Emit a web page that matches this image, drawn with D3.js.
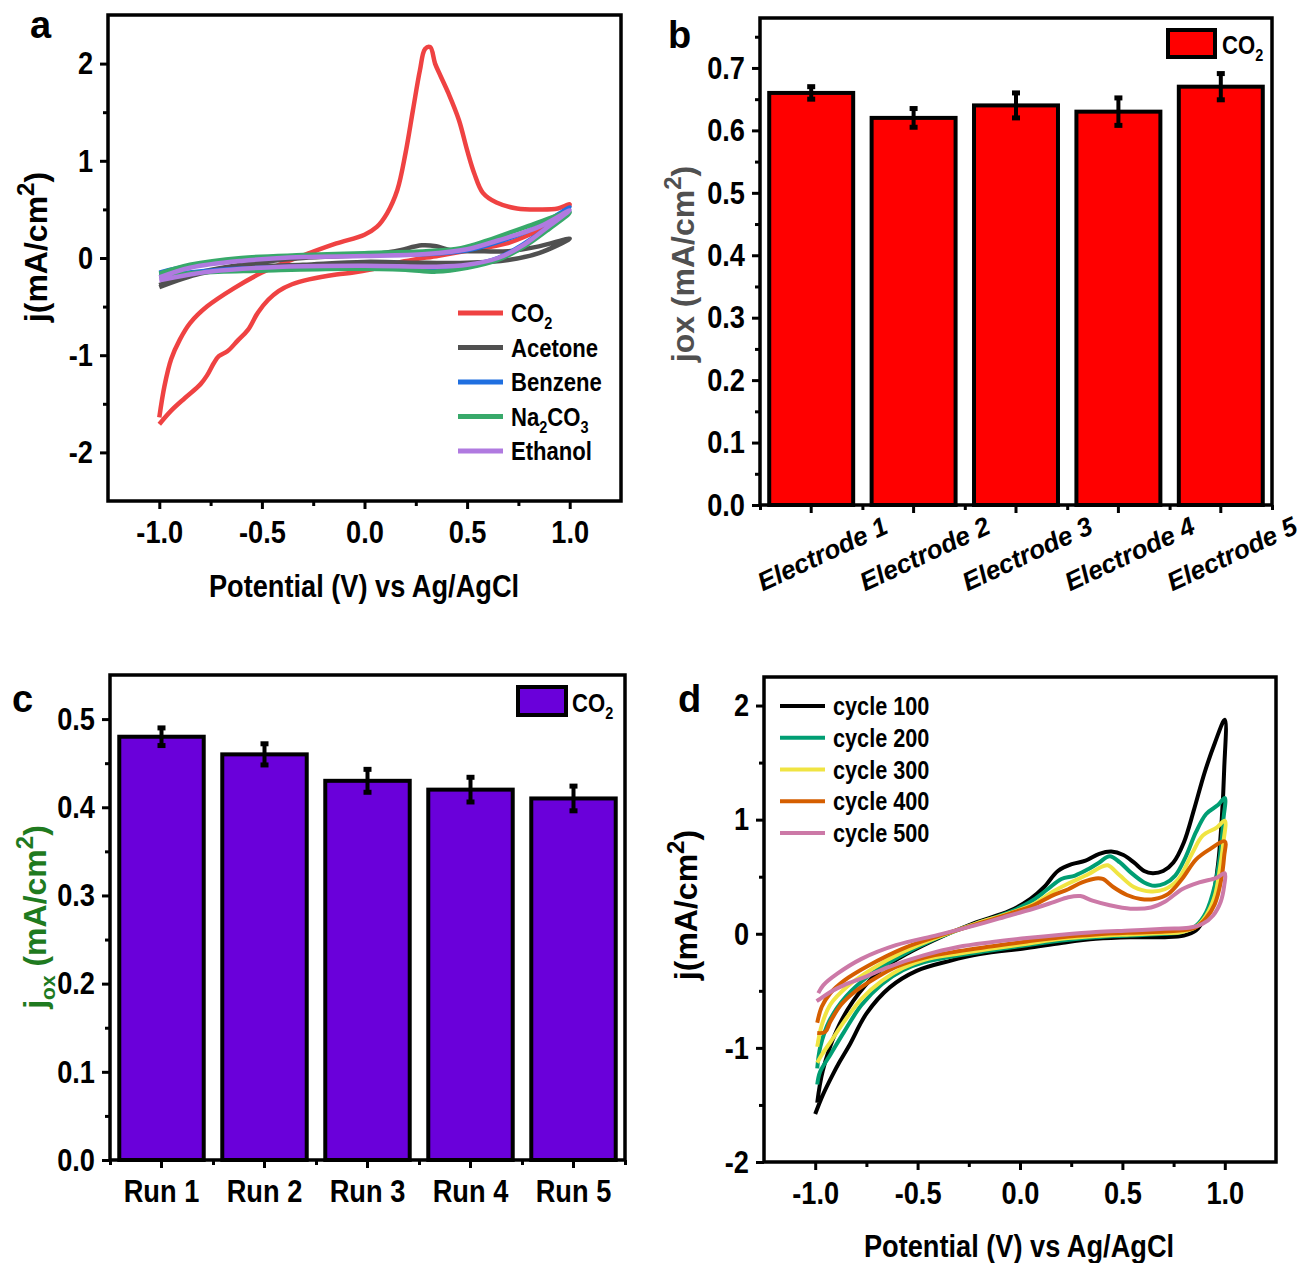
<!DOCTYPE html>
<html>
<head>
<meta charset="utf-8">
<script src="https://cdn.jsdelivr.net/npm/d3@7"></script>
<style>
body { margin: 0; background: #fff; }
svg text { font-family: "Liberation Sans", Arial, sans-serif; font-weight: bold; fill: #000; }
.tk path { display: none; }
.tk line { stroke: #000; stroke-width: 3; }
.tk text { font-size: 32px; font-family: "Liberation Sans", Arial, sans-serif; font-weight: bold; }
.tk text.elab { font-style: italic; font-size: 26px; }
</style>
</head>
<body>
<svg id="fig" width="1308" height="1263"></svg>
<script>
// ---------- panel a : CV in different media ----------
var cvNames = ["CO2", "Acetone", "Benzene", "Na2CO3", "Ethanol"]
var cvColors = ["#ef4242", "#505050", "#1f6fe0", "#38a96a", "#b07ae0"]

var co2Loop = [[-1.0,-1.64],[-0.975,-1.32],[-0.942,-1.04],[-0.90,-0.84],[-0.85,-0.67],[-0.768,-0.50],[-0.635,-0.31],[-0.50,-0.15],[-0.37,-0.03],[-0.27,0.05],[-0.137,0.15],[0.0,0.24],[0.06,0.32],[0.11,0.46],[0.16,0.70],[0.20,1.08],[0.236,1.52],[0.27,1.93],[0.295,2.15],[0.32,2.17],[0.344,2.0],[0.369,1.88],[0.41,1.69],[0.46,1.42],[0.50,1.11],[0.535,0.87],[0.577,0.67],[0.643,0.57],[0.743,0.51],[0.859,0.50],[0.942,0.51],[1.0,0.55],
  [0.925,0.36],[0.826,0.26],[0.693,0.15],[0.527,0.085],[0.361,0.024],[0.195,-0.034],[0.029,-0.12],[-0.054,-0.15],[-0.137,-0.17],[-0.27,-0.22],[-0.353,-0.27],[-0.419,-0.34],[-0.469,-0.43],[-0.519,-0.56],[-0.568,-0.74],[-0.618,-0.85],[-0.668,-0.96],[-0.71,-1.01],[-0.734,-1.08],[-0.768,-1.21],[-0.80,-1.30],[-0.875,-1.44],[-0.942,-1.57],[-1.0,-1.71]]
var acetoneLoop = [[-1.0,-0.28],[-0.85,-0.17],[-0.6,-0.07],[-0.3,0.0],[0.0,0.03],[0.15,0.07],[0.28,0.13],[0.35,0.12],[0.42,0.08],[0.55,0.07],[0.7,0.07],[0.85,0.12],[1.0,0.2],
  [0.85,0.05],[0.7,-0.02],[0.5,-0.05],[0.3,-0.05],[0.0,-0.04],[-0.3,-0.07],[-0.6,-0.1],[-0.8,-0.16],[-1.0,-0.3]]
var benzeneLoop = [[-1.0,-0.15],[-0.85,-0.08],[-0.6,-0.01],[-0.3,0.02],[0.0,0.03],[0.3,0.04],[0.5,0.08],[0.7,0.2],[0.85,0.33],[1.0,0.52],
  [0.9,0.33],[0.78,0.15],[0.65,0.0],[0.5,-0.08],[0.35,-0.11],[0.1,-0.09],[-0.3,-0.09],[-0.7,-0.12],[-1.0,-0.18]]
var na2co3Loop = [[-1.0,-0.16],[-0.85,-0.07],[-0.6,0.0],[-0.3,0.03],[0.0,0.05],[0.3,0.07],[0.47,0.1],[0.6,0.18],[0.8,0.33],[1.0,0.47],
  [0.9,0.3],[0.78,0.12],[0.65,-0.02],[0.5,-0.1],[0.35,-0.14],[0.2,-0.12],[-0.1,-0.11],[-0.5,-0.13],[-0.8,-0.15],[-1.0,-0.19]]
var ethanolLoop = [[-1.0,-0.2],[-0.85,-0.1],[-0.6,-0.03],[-0.3,0.01],[0.0,0.02],[0.3,0.04],[0.5,0.09],[0.65,0.18],[0.85,0.32],[1.0,0.49],
  [0.9,0.33],[0.78,0.14],[0.65,0.0],[0.5,-0.07],[0.35,-0.09],[0.0,-0.08],[-0.4,-0.09],[-0.75,-0.14],[-1.0,-0.23]]
var cvLoops = [co2Loop, acetoneLoop, benzeneLoop, na2co3Loop, ethanolLoop]

// ---------- panel b : five electrodes ----------
var electrodes = ["Electrode 1", "Electrode 2", "Electrode 3", "Electrode 4", "Electrode 5"]
var electrodeJ = [0.66, 0.62, 0.64, 0.63, 0.67]
var electrodeErr = [0.01, 0.015, 0.02, 0.022, 0.021]

// ---------- panel c : repeated runs ----------
var runs = ["Run 1", "Run 2", "Run 3", "Run 4", "Run 5"]
var runJ = [0.48, 0.46, 0.43, 0.42, 0.41]
var runErr = [0.010, 0.012, 0.013, 0.014, 0.014]

// ---------- panel d : cycling ----------
var cycleNames = ["cycle 100", "cycle 200", "cycle 300", "cycle 400", "cycle 500"]
var cycleColors = ["#000000", "#009e73", "#f0e442", "#d55e00", "#cc79a7"]
var cycle100 = [[-0.99,-1.48],[-0.963,-1.20],[-0.896,-0.85],[-0.815,-0.59],[-0.70,-0.35],[-0.587,-0.21],[-0.425,-0.06],[-0.23,0.09],[-0.051,0.20],[0.051,0.305],[0.118,0.41],[0.185,0.55],[0.253,0.61],[0.32,0.64],[0.387,0.70],[0.446,0.72],[0.505,0.69],[0.556,0.625],[0.606,0.55],[0.648,0.53],[0.699,0.55],[0.749,0.625],[0.80,0.80],[0.85,1.09],[0.901,1.41],[0.951,1.67],[1.0,1.875],
  [0.997,1.44],[0.985,1.0],[0.968,0.625],[0.943,0.33],[0.909,0.16],[0.859,0.03],[0.80,-0.015],[0.707,-0.03],[0.539,-0.03],[0.37,-0.044],[0.202,-0.08],[0.034,-0.125],[-0.196,-0.178],[-0.342,-0.237],[-0.505,-0.325],[-0.636,-0.47],[-0.75,-0.70],[-0.831,-0.97],[-0.88,-1.12],[-0.913,-1.23],[-0.962,-1.41],[-1.0,-1.58]]
var cycle200 = [[-0.99,-1.18],[-0.975,-0.99],[-0.93,-0.76],[-0.85,-0.55],[-0.74,-0.37],[-0.60,-0.21],[-0.42,-0.05],[-0.219,0.087],[-0.051,0.19],[0.051,0.28],[0.135,0.39],[0.202,0.48],[0.269,0.51],[0.337,0.57],[0.387,0.625],[0.438,0.68],[0.488,0.625],[0.539,0.54],[0.606,0.45],[0.657,0.42],[0.707,0.44],[0.758,0.51],[0.808,0.67],[0.859,0.89],[0.909,1.05],[0.968,1.13],[1.0,1.19],
  [0.993,1.0],[0.976,0.68],[0.951,0.42],[0.909,0.19],[0.859,0.07],[0.791,0.015],[0.707,0.0],[0.539,-0.015],[0.37,-0.03],[0.202,-0.06],[0.034,-0.10],[-0.135,-0.145],[-0.303,-0.19],[-0.471,-0.25],[-0.572,-0.32],[-0.673,-0.44],[-0.774,-0.625],[-0.859,-0.86],[-0.926,-1.06],[-0.976,-1.21],[-0.99,-1.32]]
var cycle300 = [[-0.99,-0.99],[-0.968,-0.80],[-0.926,-0.62],[-0.842,-0.46],[-0.724,-0.31],[-0.572,-0.16],[-0.40,-0.03],[-0.219,0.087],[-0.051,0.18],[0.067,0.26],[0.152,0.36],[0.236,0.44],[0.32,0.51],[0.404,0.59],[0.429,0.60],[0.488,0.51],[0.556,0.41],[0.64,0.37],[0.707,0.39],[0.774,0.48],[0.842,0.71],[0.892,0.86],[0.96,0.93],[1.0,0.99],
  [0.993,0.8],[0.976,0.57],[0.951,0.33],[0.909,0.16],[0.859,0.06],[0.791,0.015],[0.707,0.006],[0.539,-0.006],[0.37,-0.02],[0.202,-0.044],[0.034,-0.087],[-0.135,-0.13],[-0.303,-0.175],[-0.471,-0.23],[-0.572,-0.30],[-0.673,-0.41],[-0.774,-0.57],[-0.859,-0.77],[-0.926,-0.95],[-0.968,-1.06],[-0.99,-1.13]]
var cycle400 = [[-0.99,-0.78],[-0.968,-0.64],[-0.926,-0.52],[-0.859,-0.41],[-0.741,-0.28],[-0.572,-0.13],[-0.40,-0.02],[-0.219,0.08],[-0.051,0.175],[0.067,0.25],[0.152,0.33],[0.236,0.39],[0.303,0.45],[0.37,0.485],[0.404,0.48],[0.455,0.41],[0.522,0.34],[0.589,0.305],[0.657,0.305],[0.724,0.35],[0.791,0.48],[0.859,0.65],[0.926,0.74],[1.0,0.81],
  [0.997,0.68],[0.98,0.45],[0.951,0.26],[0.909,0.137],[0.859,0.058],[0.791,0.03],[0.707,0.02],[0.539,0.009],[0.37,-0.006],[0.202,-0.03],[0.034,-0.067],[-0.135,-0.11],[-0.303,-0.154],[-0.471,-0.21],[-0.606,-0.29],[-0.707,-0.39],[-0.808,-0.51],[-0.875,-0.625],[-0.926,-0.77],[-0.951,-0.86],[-0.99,-0.87]]
var cycle500 = [[-0.985,-0.52],[-0.96,-0.45],[-0.892,-0.35],[-0.774,-0.22],[-0.606,-0.10],[-0.40,-0.01],[-0.219,0.073],[-0.051,0.16],[0.084,0.23],[0.168,0.28],[0.236,0.32],[0.295,0.33],[0.354,0.29],[0.438,0.25],[0.539,0.22],[0.64,0.23],[0.707,0.28],[0.791,0.39],[0.875,0.45],[0.96,0.49],[1.0,0.53],
  [0.997,0.42],[0.98,0.28],[0.943,0.16],[0.892,0.087],[0.825,0.052],[0.707,0.044],[0.539,0.029],[0.37,0.015],[0.202,-0.009],[0.034,-0.038],[-0.135,-0.073],[-0.303,-0.116],[-0.471,-0.19],[-0.64,-0.29],[-0.758,-0.38],[-0.859,-0.45],[-0.926,-0.51],[-0.976,-0.57],[-0.993,-0.59]]
var cycleLoops = [cycle100, cycle200, cycle300, cycle400, cycle500]

var svg = d3.select("#fig")
var NARROW = 0.85   // squeeze Liberation Sans to look like a narrow face

// text with sub/superscripts, parts = [[str, ""|"sub"|"sup"], ...]
function rich(t, parts, size, supScale) {
  var cur = 0
  parts.forEach(function(p) {
    if (!p[0]) return
    var off = p[1] == "sub" ? 0.28 * size : p[1] == "sup" ? -0.42 * size : 0
    var s = p[1] == "sup" && supScale ? supScale : 0.65
    t.append("tspan")
      .attr("dy", off - cur)
      .style("font-size", (p[1] ? Math.round(size * s) : size) + "px")
      .text(p[0])
    cur = off
  })
}
function chem(name) {
  return name.split(/(\d)/).map(function(s, i) { return [s, i % 2 ? "sub" : ""] })
}
function ntext(g, x, y, anchor) {
  return g.append("text").attr("text-anchor", anchor || "start")
    .attr("transform", "translate(" + x + "," + y + ") scale(" + NARROW + ",1)")
}

function axes(g, x, y, o) {
  var yb = y.range()[0], yt = y.range()[1], xl = x.range()[0], xr = x.range()[1]
  g.append("g").attr("class", "tk").attr("transform", "translate(0," + yb + ")")
    .call(d3.axisBottom(o.xMinorScale || x).tickValues(o.xMinor).tickSize(5).tickFormat(""))
  var xa = g.append("g").attr("class", "tk").attr("transform", "translate(0," + yb + ")")
    .call(o.xAxis.tickSize(8).tickPadding(11))
  xa.selectAll("text").attr("transform", "scale(" + NARROW + ",1)")
  g.append("g").attr("class", "tk").attr("transform", "translate(" + xl + ",0)")
    .call(d3.axisLeft(y).tickValues(o.yMinor).tickSize(5).tickFormat(""))
  g.append("g").attr("class", "tk").attr("transform", "translate(" + xl + ",0)")
    .call(d3.axisLeft(y).tickValues(o.yMajor).tickFormat(o.yFmt).tickSize(8).tickPadding(7))
    .selectAll("text").attr("x", -15 / NARROW).attr("transform", "scale(" + NARROW + ",1)")
  g.append("rect").attr("x", xl).attr("y", yt).attr("width", xr - xl).attr("height", yb - yt)
    .attr("fill", "none").attr("stroke", "#000").attr("stroke-width", 3.5)
  return xa
}

function yTitle(g, x, y, parts, color) {
  var t = g.append("text").attr("text-anchor", "middle")
    .attr("transform", "translate(" + x + "," + y + ") rotate(-90)")
    .style("fill", color || "#000")
  rich(t, parts, 32, 0.75)
}

function panelLetter(x, y, s) {
  svg.append("text").attr("x", x).attr("y", y).style("font-size", "38px").text(s)
}

var fmt1 = function(d) { return d.toFixed(1) }
var fmt0 = function(d) { return String(d) }
var cvLine = function(x, y) {
  return d3.line().x(function(d) { return x(d[0]) }).y(function(d) { return y(d[1]) })
    .curve(d3.curveCatmullRom.alpha(0.5))
}

// ================= panel a =================
var ga = svg.append("g")
var xa = d3.scaleLinear().domain([-1.25, 1.25]).range([108, 621])
var ya = d3.scaleLinear().domain([-2.5, 2.5]).range([501, 15])

ga.selectAll("path.cv").data(cvLoops).join("path")
  .attr("class", "cv")
  .attr("d", cvLine(xa, ya))
  .attr("fill", "none")
  .attr("stroke", function(d, i) { return cvColors[i] })
  .attr("stroke-width", 4.5)
  .attr("stroke-linejoin", "round")

axes(ga, xa, ya, {
  xMinor: [-0.75, -0.25, 0.25, 0.75],
  xAxis: d3.axisBottom(xa).tickValues([-1, -0.5, 0, 0.5, 1]).tickFormat(fmt1),
  yMinor: [-1.5, -0.5, 0.5, 1.5],
  yMajor: [-2, -1, 0, 1, 2],
  yFmt: fmt0
})

cvNames.forEach(function(n, i) {
  var yy = 313 + i * 34.5
  ga.append("line").attr("x1", 458).attr("x2", 503).attr("y1", yy).attr("y2", yy)
    .attr("stroke", cvColors[i]).attr("stroke-width", 5)
  rich(ntext(ga, 511, yy + 9), chem(n), 26)
})

yTitle(ga, 47, 247, [["j(mA/cm", ""], ["2", "sup"], [")", ""]])
ntext(ga, 364, 597, "middle").style("font-size", "32px").text("Potential (V) vs Ag/AgCl")
panelLetter(30, 38, "a")

// ================= panel b =================
var gb = svg.append("g")
var xb = d3.scaleBand().domain(electrodes).range([760, 1272]).paddingInner(0.18).paddingOuter(0.09)
var yb = d3.scaleLinear().domain([0, 0.78]).range([505, 18])

function bars(g, x, y, cats, vals, errs, color) {
  g.selectAll("rect.bar").data(vals).join("rect")
    .attr("class", "bar")
    .attr("x", function(d, i) { return x(cats[i]) })
    .attr("y", function(d) { return y(d) })
    .attr("width", x.bandwidth())
    .attr("height", function(d) { return y(0) - y(d) })
    .attr("fill", color).attr("stroke", "#000").attr("stroke-width", 4)
  var cx = function(i) { return x(cats[i]) + x.bandwidth() / 2 }
  g.selectAll("line.err").data(vals).join("line")
    .attr("class", "err")
    .attr("x1", function(d, i) { return cx(i) }).attr("x2", function(d, i) { return cx(i) })
    .attr("y1", function(d, i) { return y(d - errs[i]) })
    .attr("y2", function(d, i) { return y(d + errs[i]) })
    .attr("stroke", "#000").attr("stroke-width", 4)
  ;[-1, 1].forEach(function(s) {
    g.selectAll("line.cap" + (s + 1)).data(vals).join("line")
      .attr("class", "cap" + (s + 1))
      .attr("x1", function(d, i) { return cx(i) - 4 }).attr("x2", function(d, i) { return cx(i) + 4 })
      .attr("y1", function(d, i) { return y(d + s * errs[i]) })
      .attr("y2", function(d, i) { return y(d + s * errs[i]) })
      .attr("stroke", "#000").attr("stroke-width", 5)
  })
}

bars(gb, xb, yb, electrodes, electrodeJ, electrodeErr, "#ff0000")

var xbAxis = axes(gb, xb, yb, {
  xMinorScale: d3.scaleLinear().domain([0, 5]).range(xb.range()),
  xMinor: [0, 1, 2, 3, 4, 5],
  xAxis: d3.axisBottom(xb),
  yMinor: d3.range(0.05, 0.78, 0.1),
  yMajor: d3.range(0, 0.71, 0.1),
  yFmt: fmt1
})
xbAxis.selectAll("text")
  .attr("class", "elab")
  .attr("y", 0).attr("dy", 0)
  .attr("text-anchor", "middle")
  .attr("transform", "translate(15,57) rotate(-25)")

gb.append("rect").attr("x", 1168).attr("y", 30).attr("width", 47).attr("height", 27)
  .attr("fill", "#ff0000").attr("stroke", "#000").attr("stroke-width", 4)
rich(ntext(gb, 1222, 54), chem("CO2"), 26)

yTitle(gb, 694, 264, [["jox (mA/cm", ""], ["2", "sup"], [")", ""]], "#505050")
panelLetter(668, 48, "b")

// ================= panel c =================
var gc = svg.append("g")
var xc = d3.scaleBand().domain(runs).range([110, 625]).paddingInner(0.18).paddingOuter(0.09)
var yc = d3.scaleLinear().domain([0, 0.55]).range([1160, 675])

bars(gc, xc, yc, runs, runJ, runErr, "#6a00da")

axes(gc, xc, yc, {
  xMinorScale: d3.scaleLinear().domain([0, 5]).range(xc.range()),
  xMinor: [0, 1, 2, 3, 4, 5],
  xAxis: d3.axisBottom(xc),
  yMinor: d3.range(0.05, 0.55, 0.1),
  yMajor: d3.range(0, 0.51, 0.1),
  yFmt: fmt1
})

gc.append("rect").attr("x", 518).attr("y", 687).attr("width", 48).attr("height", 28)
  .attr("fill", "#6a00da").attr("stroke", "#000").attr("stroke-width", 4)
rich(ntext(gc, 572, 712), chem("CO2"), 26)

yTitle(gc, 46, 917, [["j", ""], ["ox", "sub"], [" (mA/cm", ""], ["2", "sup"], [")", ""]], "#1f7a1f")
panelLetter(12, 712, "c")

// ================= panel d =================
var gd = svg.append("g")
var xd = d3.scaleLinear().domain([-1.25, 1.25]).range([764, 1276])
var yd = d3.scaleLinear().domain([-2, 2.25]).range([1162, 677])

gd.selectAll("path.cv").data(cycleLoops).join("path")
  .attr("class", "cv")
  .attr("d", cvLine(xd, yd))
  .attr("fill", "none")
  .attr("stroke", function(d, i) { return cycleColors[i] })
  .attr("stroke-width", 4)
  .attr("stroke-linejoin", "round")

axes(gd, xd, yd, {
  xMinor: [-0.75, -0.25, 0.25, 0.75],
  xAxis: d3.axisBottom(xd).tickValues([-1, -0.5, 0, 0.5, 1]).tickFormat(fmt1),
  yMinor: [-1.5, -0.5, 0.5, 1.5],
  yMajor: [-2, -1, 0, 1, 2],
  yFmt: fmt0
})

cycleNames.forEach(function(n, i) {
  var yy = 706 + i * 31.75
  gd.append("line").attr("x1", 780).attr("x2", 825).attr("y1", yy).attr("y2", yy)
    .attr("stroke", cycleColors[i]).attr("stroke-width", 4)
  ntext(gd, 833, yy + 9).style("font-size", "25.5px").text(n)
})

yTitle(gd, 697, 905, [["j(mA/cm", ""], ["2", "sup"], [")", ""]])
ntext(gd, 1019, 1257, "middle").style("font-size", "32px").text("Potential (V) vs Ag/AgCl")
panelLetter(678, 712, "d")
</script>
</body>
</html>
